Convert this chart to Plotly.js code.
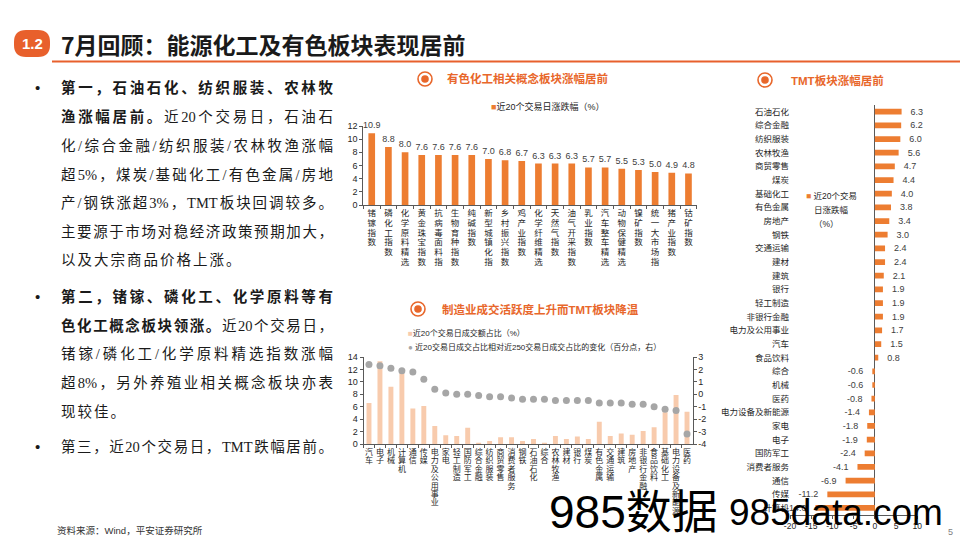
<!DOCTYPE html>
<html>
<head>
<meta charset="utf-8">
<script src="https://cdn.plot.ly/plotly-3.0.1.min.js"></script>
<style>
html,body{margin:0;padding:0;background:#fff;}
#wrap{position:relative;width:960px;height:540px;overflow:hidden;background:#fff;}
#chart{position:absolute;left:0;top:0;width:960px;height:540px;}
.ln{position:absolute;left:61px;width:272px;font-family:'Liberation Serif','Noto Sans CJK SC',serif;font-size:14.5px;color:#1a1a1a;line-height:20px;white-space:nowrap;letter-spacing:2px;}
.j{text-align:justify;text-align-last:justify;letter-spacing:0;}
.bul{position:absolute;left:35px;font-family:'Liberation Sans',sans-serif;font-size:15px;line-height:20px;color:#1a1a1a;}
b{font-weight:bold;}
</style>
</head>
<body>
<div id="wrap">
<div id="chart"></div>

<div class="bul" style="top:78px">•</div>
<div class="ln j" style="top:78px"><b>第一，石油石化、纺织服装、农林牧</b></div>
<div class="ln j" style="top:107px"><b>渔涨幅居前。</b>近20个交易日，石油石</div>
<div class="ln j" style="top:136px">化/综合金融/纺织服装/农林牧渔涨幅</div>
<div class="ln j" style="top:165px">超5%，煤炭/基础化工/有色金属/房地</div>
<div class="ln j" style="top:193px">产/钢铁涨超3%，TMT板块回调较多。</div>
<div class="ln j" style="top:222px">主要源于市场对稳经济政策预期加大，</div>
<div class="ln" style="top:250px">以及大宗商品价格上涨。</div>

<div class="bul" style="top:287px">•</div>
<div class="ln j" style="top:287px"><b>第二，锗镓、磷化工、化学原料等有</b></div>
<div class="ln j" style="top:316px"><b>色化工概念板块领涨。</b>近20个交易日，</div>
<div class="ln j" style="top:344px">锗镓/磷化工/化学原料精选指数涨幅</div>
<div class="ln j" style="top:373px">超8%，另外养殖业相关概念板块亦表</div>
<div class="ln" style="top:402px">现较佳。</div>

<div class="bul" style="top:437px">•</div>
<div class="ln j" style="top:437px">第三，近20个交易日，TMT跌幅居前。</div>
</div>

<script>
// ---------- data ----------
const topCategories = ['锗镓指数','磷化工指数','化学原料精选','黄金珠宝指数','抗病毒面料指','生物育种指数','纯碱指数','新型城镇化指','乡村振兴指数','鸡产业指数','化学纤维精选','天然气指数','油气开采指数','乳业指数','汽车整车精选','动物保健精选','镍矿指数','统一大市场指','猪产业指数','钴矿指数'];
const topValues = [10.9,8.8,8.0,7.6,7.6,7.6,7.6,7.0,6.8,6.7,6.3,6.3,6.3,5.7,5.7,5.5,5.3,5.0,4.9,4.8];

const midCategories = ['汽车','电子','机械','计算机','通信','传媒','电力及公用事业','家电','轻工制造','国防军工','综合金融','纺织服装','商贸零售','消费者服务','钢铁','石油石化','综合','农林牧渔','建材','银行','煤炭','有色金属','交通运输','建筑','房地产','非银行金融','食品饮料','基础化工','电力设备及新能源','医药'];
const midShare = [6.6,13.3,9.2,11.4,5.7,6.1,2.9,1.4,1.3,2.6,0.2,0.5,1.1,1.1,0.5,0.8,0.2,1.3,0.8,1.2,0.8,3.6,1.3,1.7,1.5,2.1,2.7,5.1,7.9,5.2];
const midChange = [2.4,2.3,2.1,1.9,1.8,1.2,0.4,0.1,0.0,0.0,-0.1,-0.2,-0.2,-0.3,-0.4,-0.4,-0.4,-0.5,-0.5,-0.5,-0.5,-0.7,-0.7,-0.7,-0.8,-0.8,-1.0,-1.2,-1.3,-3.2];

const rightCategories = ['石油石化','综合金融','纺织服装','农林牧渔','商贸零售','煤炭','基础化工','有色金属','房地产','钢铁','交通运输','建材','建筑','银行','轻工制造','非银行金融','电力及公用事业','汽车','食品饮料','综合','机械','医药','电力设备及新能源','家电','电子','国防军工','消费者服务','通信','传媒','计算机'];
const rightValues = [6.3,6.2,6.0,5.6,4.7,4.4,4.0,3.8,3.4,3.0,2.4,2.4,2.1,1.9,1.9,1.9,1.7,1.5,0.8,-0.6,-0.6,-0.8,-1.4,-1.8,-1.9,-2.4,-4.1,-6.9,-11.2,-14.0];

const topTicks = [0,2,4,6,8,10,12];
const midLeftTicks = [0,2,4,6,8,10,12,14];
const midRightTicks = [-4,-3,-2,-1,0,1,2,3];
const rightTicks = [-20,-15,-10,-5,0,5,10];

// ---------- helpers ----------
const W = 960, H = 540;
const px = x => x / W;
const py = y => 1 - y / H;
const FONT = "'Liberation Sans','Noto Sans CJK SC',sans-serif";
const ORANGE = '#ED7D31';
const TITLE_OR = '#E8672B';
const AX = '#595959';
const vert = s => s.split('').join('<br>');
const lbl = v => String(v);
const SP = '\u2002\u2002';

const axBase = {
  showgrid:false, zeroline:false, showline:true, linecolor:AX, linewidth:1,
  ticks:'outside', ticklen:3, tickcolor:AX, tickwidth:1, tickangle:0,
  tickfont:{family:FONT,size:9,color:'#262626'}, fixedrange:true
};

const traces = [
  {type:'bar', x:topCategories, y:topValues, xaxis:'x', yaxis:'y',
   marker:{color:ORANGE}, width:0.4,
   text:topValues.map(v=>v.toFixed(1)), textposition:'outside', constraintext:'none',
   textfont:{family:FONT,size:9,color:'#404040'}, cliponaxis:false, hoverinfo:'skip', showlegend:false},
  {type:'bar', x:midCategories, y:midShare, xaxis:'x2', yaxis:'y2',
   marker:{color:'#F8CBAD'}, width:0.45, hoverinfo:'skip', showlegend:false},
  {type:'scatter', mode:'markers', x:midCategories, y:midChange, xaxis:'x2', yaxis:'y3',
   marker:{color:'#A6A6A6', size:7}, cliponaxis:false, hoverinfo:'skip', showlegend:false},
  {type:'bar', orientation:'h', y:rightCategories, x:rightValues, xaxis:'x3', yaxis:'y4',
   marker:{color:ORANGE}, width:0.42,
   text:rightValues.map(v => v >= 0 ? SP + v.toFixed(1) : v.toFixed(1) + SP),
   textposition:'outside', constraintext:'none',
   textfont:{family:FONT,size:9,color:'#404040'}, cliponaxis:false, hoverinfo:'skip', showlegend:false}
];

function ann(x, y, text, o) {
  return Object.assign({xref:'paper', yref:'paper', x:px(x), y:py(y), text:text, showarrow:false,
    xanchor:'left', yanchor:'middle', font:{family:FONT, size:9, color:'#262626'}}, o || {});
}
function ring(cx, cy) {
  return [
    {type:'circle', xref:'paper', yref:'paper', x0:px(cx-7), x1:px(cx+7), y0:py(cy+7), y1:py(cy-7),
     line:{color:TITLE_OR, width:1.6}, fillcolor:'#ffffff'},
    {type:'circle', xref:'paper', yref:'paper', x0:px(cx-3.8), x1:px(cx+3.8), y0:py(cy+3.8), y1:py(cy-3.8),
     line:{width:0}, fillcolor:TITLE_OR}
  ];
}
function roundRect(x0, y0, x1, y1, r) {
  const X = v => px(v), Y = v => py(v);
  return `M ${X(x0+r)},${Y(y0)} L ${X(x1-r)},${Y(y0)} Q ${X(x1)},${Y(y0)} ${X(x1)},${Y(y0+r)} ` +
         `L ${X(x1)},${Y(y1-r)} Q ${X(x1)},${Y(y1)} ${X(x1-r)},${Y(y1)} L ${X(x0+r)},${Y(y1)} ` +
         `Q ${X(x0)},${Y(y1)} ${X(x0)},${Y(y1-r)} L ${X(x0)},${Y(y0+r)} Q ${X(x0)},${Y(y0)} ${X(x0+r)},${Y(y0)} Z`;
}

const layout = {
  width:W, height:H, margin:{l:0,r:0,t:0,b:0}, paper_bgcolor:'rgba(0,0,0,0)', plot_bgcolor:'rgba(0,0,0,0)',
  font:{family:FONT, color:'#262626'}, showlegend:false, bargap:0.5,
  xaxis:Object.assign({}, axBase, {domain:[px(363.4),px(696.8)], anchor:'y', type:'category',
    range:[-0.5, topCategories.length - 0.5],
    tickmode:'array', tickvals:topCategories, ticktext:topCategories.map(vert), tickson:'boundaries',
    tickfont:{family:FONT,size:8.5,color:'#262626'}}),
  yaxis:Object.assign({}, axBase, {domain:[py(205),py(126)], anchor:'x', range:[0,12],
    tickmode:'array', tickvals:topTicks, ticktext:topTicks.map(lbl)}),
  xaxis2:Object.assign({}, axBase, {domain:[px(363.5),px(692.5)], anchor:'y2', type:'category',
    range:[-0.5, midCategories.length - 0.5],
    tickmode:'array', tickvals:midCategories, ticktext:midCategories.map(vert), tickson:'boundaries',
    tickfont:{family:FONT,size:8,color:'#262626'}}),
  yaxis2:Object.assign({}, axBase, {domain:[py(444),py(357)], anchor:'x2', range:[0,14],
    tickmode:'array', tickvals:midLeftTicks, ticktext:midLeftTicks.map(lbl)}),
  yaxis3:Object.assign({}, axBase, {overlaying:'y2', side:'right', anchor:'x2', range:[-4,3],
    tickmode:'array', tickvals:midRightTicks, ticktext:midRightTicks.map(lbl)}),
  xaxis3:Object.assign({}, axBase, {domain:[px(790),px(917.3)], anchor:'y4', range:[-20,10],
    tickmode:'array', tickvals:rightTicks, ticktext:rightTicks.map(lbl),
    zeroline:true, zerolinecolor:AX, zerolinewidth:1, tickfont:{family:FONT,size:8.5,color:'#262626'}}),
  yaxis4:Object.assign({}, axBase, {domain:[py(514.8),py(104.9)], anchor:'x3', type:'category',
    autorange:'reversed', showline:false, ticks:'', tickfont:{family:FONT,size:8.5,color:'#262626'}}),
  shapes:[
    {type:'path', xref:'paper', yref:'paper', path:roundRect(14,30,50,57,12), fillcolor:'#E8602C', line:{width:0}},
    {type:'line', xref:'paper', yref:'paper', x0:px(52), x1:px(960), y0:py(61.5), y1:py(61.5), line:{color:'#E8602C', width:2}},
    ...ring(425,79), ...ring(418,309), ...ring(765,80)
  ],
  annotations:[
    ann(32,43.5,'<b>1.2</b>', {xanchor:'center', font:{family:FONT,size:15,color:'#ffffff'}}),
    ann(59,44,'<b>7月回顾：能源化工及有色板块表现居前</b>', {font:{family:"'Noto Sans CJK SC',sans-serif",size:23,color:'#1a1a1a'}}),
    ann(445,79,'<b>有色化工相关概念板块涨幅居前</b>', {font:{family:FONT,size:11.5,color:TITLE_OR}}),
    ann(440,309,'<b>制造业成交活跃度上升而TMT板块降温</b>', {font:{family:FONT,size:11.5,color:TITLE_OR}}),
    ann(789,80,'<b>TMT板块涨幅居前</b>', {font:{family:FONT,size:11.5,color:TITLE_OR}}),
    ann(489,106,'<span style="color:#ED7D31">■</span>近20个交易日涨跌幅（%）', {font:{family:FONT,size:9,color:'#262626'}}),
    ann(406,333,'<span style="color:#F8CBAD">■</span>近20个交易日成交额占比（%）', {font:{family:FONT,size:8,color:'#262626'}}),
    ann(406,347,'<span style="color:#A6A6A6">●</span> 近20交易日成交占比相对近250交易日成交占比的变化（百分点，右）', {font:{family:FONT,size:8,color:'#262626'}}),
    ann(804,196,'<span style="color:#ED7D31">■</span> 近20个交易', {font:{family:FONT,size:8.5,color:'#262626'}}),
    ann(812,210,'日涨跌幅', {font:{family:FONT,size:8.5,color:'#262626'}}),
    ann(812,224,'（%）', {font:{family:FONT,size:8.5,color:'#262626'}}),
    ann(55,530,'资料来源：Wind，平安证券研究所', {font:{family:FONT,size:9.5,color:'#333333'}}),
    ann(950,532,'5', {xanchor:'center', font:{family:FONT,size:9,color:'#7f7f7f'}}),
    ann(547,512,'985数据', {font:{family:FONT,size:46,color:'#000000'}}),
    ann(727,512,'985data.com', {font:{family:FONT,size:37,color:'#000000'}})
  ]
};

function tighten() {
  document.querySelectorAll('g.xtick text, g.x2tick text').forEach(t => {
    const ls = t.closest('g.x2tick') ? 1.06 : 1.14;
    t.querySelectorAll('tspan.line').forEach((s, i) => s.setAttribute('dy', (i * ls) + 'em'));
  });
}

Plotly.newPlot('chart', traces, layout, {staticPlot:true, displayModeBar:false}).then(gd => {
  tighten();
  gd.on('plotly_afterplot', tighten);
});
</script>
</body>
</html>
